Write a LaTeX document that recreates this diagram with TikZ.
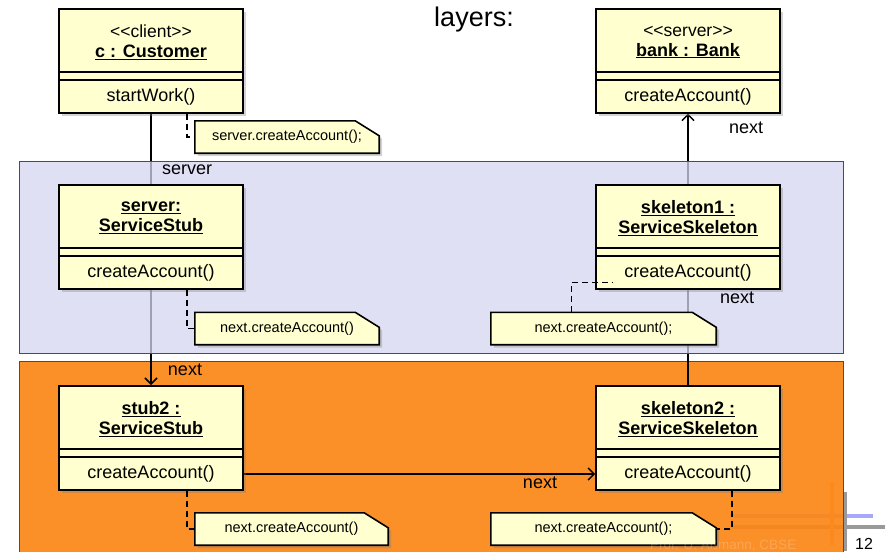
\documentclass[tikz,border=0pt]{standalone}
\usepackage{fontspec}
\setmainfont{Liberation Sans}
\usetikzlibrary{arrows.meta,shadows}
\pgfdeclarelayer{deco}
\pgfdeclarelayer{links}
\pgfdeclarelayer{tint}
\pgfdeclarelayer{paper}
\pgfsetlayers{deco,links,tint,paper,main}
\definecolor{objyellow}{RGB}{255,255,208}
\definecolor{layerblue}{RGB}{214,214,240}
\definecolor{layerorange}{RGB}{251,134,24}
\definecolor{decoblue}{RGB}{168,168,250}
\newcommand\stereofont{\mdseries\fontsize{17.5}{20}\selectfont}
\tikzset{
  objbox/.style={draw, line width=1.6pt, fill=objyellow, minimum width=184pt,
    minimum height=104pt, anchor=north,
    drop shadow={shadow xshift=3pt, shadow yshift=-3pt, opacity=.35}},
  headtext/.style={font=\bfseries\fontsize{18}{20}\selectfont, align=center},
  optext/.style={font=\fontsize{18}{20}\selectfont},
  notebox/.style={inner sep=0pt, minimum height=32pt, font=\fontsize{14.5}{16}\selectfont},
  notepaper/.style={draw, line width=1.6pt, fill=objyellow,
    drop shadow={shadow xshift=3pt, shadow yshift=-3pt, opacity=.35}},
  notelink/.style={line width=1.5pt, dash pattern=on 6pt off 4pt},
  objlink/.style={line width=1.5pt},
  linklabel/.style={font=\fontsize{18}{20}\selectfont, inner sep=0pt}
}
\begin{document}
\begin{tikzpicture}[x=1pt, y=-1pt]
\useasboundingbox (0,0) rectangle (890,551);
% Title
\node[font=\fontsize{27}{30}\selectfont, anchor=base, inner sep=0pt] (title) at (474,27) {layers:};
% Draw the objects: name compartment, empty attributes, operation
\foreach \n/\x/\y/\head/\op in {
  c/151/8/{\stereofont <{}<client>{}>}\\\underline{c : Customer}/startWork(),
  bank/688/8/{\stereofont <{}<server>{}>}\\\underline{bank : Bank}/createAccount(),
  serv/151/184/\underline{server:}\\\underline{ServiceStub}/createAccount(),
  skel1/688/184/\underline{skeleton1 :}\\\underline{ServiceSkeleton}/createAccount(),
  stub2/151/385/\underline{stub2 :}\\\underline{ServiceStub}/createAccount(),
  skel2/688/385/\underline{skeleton2 :}\\\underline{ServiceSkeleton}/createAccount()}
{
  \node[objbox] (\n) at (\x,\y) {};
  \draw[line width=1.6pt] ([yshift=-64pt]\n.north west) -- ([yshift=-64pt]\n.north east);
  \draw[line width=1.6pt] ([yshift=-72pt]\n.north west) -- ([yshift=-72pt]\n.north east);
  \node[headtext] (\n-head) at ([yshift=-34pt]\n.north) {\head};
  \node[optext] (\n-op) at ([yshift=-89pt]\n.north) {\op};
}
% Notes
\node[notebox, minimum width=184pt] (note1) at (287,137) {server.createAccount();};
\node[notebox, minimum width=184pt] (note2) at (287,328.5) {next.createAccount()};
\node[notebox, minimum width=225pt] (note3) at (603.5,328.5) {next.createAccount();};
\node[notebox, minimum width=193pt] (note4) at (291.5,529) {next.createAccount()};
\node[notebox, minimum width=225pt] (note5) at (603.5,529) {next.createAccount();};
% Paper of the notes, with the corner cut off
\begin{pgfonlayer}{paper}
\foreach \i in {1,...,5}
{
  \draw[notepaper] (note\i.north west) -- ([xshift=-24pt]note\i.north east)
    -- ([yshift=-15pt]note\i.north east) -- (note\i.south east) -- (note\i.south west) -- cycle;
}
\end{pgfonlayer}
% Dashed note links
\draw[notelink] ([xshift=36pt]c.south) |- (note1.west);
\draw[notelink] ([xshift=36pt]serv.south) |- (note2.west);
\draw[notelink] ([xshift=-32pt]note3.north) |- ([xshift=18pt,yshift=7pt]skel1.south west);
\draw[notelink] ([xshift=36pt]stub2.south) |- (note4.west);
\draw[notelink] ([xshift=44pt]skel2.south) |- (note5.east);
% Role names
\node[linklabel, anchor=west] (server-lbl) at (162,170) {server};
\node[linklabel] (next1) at (746,128) {next};
\node[linklabel] (next2) at (737,298) {next};
\node[linklabel] (next3) at (185,370) {next};
\node[linklabel] (next4) at (540,483) {next};
% Footer
\node[anchor=base west, inner sep=0pt, font=\fontsize{13.5}{15}\selectfont, text=white, text opacity=.2] (footer) at (650,549) {Prof. U. Aßmann, CBSE};
\node[anchor=base west, inner sep=0pt, font=\fontsize{16}{18}\selectfont] (page) at (855,549) {12};
% Layers and links behind the objects
\begin{pgfonlayer}{deco}
  \draw[line width=4pt, decoblue] (732,516) -- (873,516);
  \draw[line width=4pt, gray!80] (732,527) -- (885,527);
  \draw[line width=4pt, gray!80] (845,492) -- (845,551);
  \draw[line width=4pt, orange!60] (832,482) -- (832,545);
  \fill[layerorange, opacity=.93] (19,361) rectangle (843,560);
  \draw[gray!60!black, line width=.8pt] (19,361) rectangle (843,560);
\end{pgfonlayer}
\begin{pgfonlayer}{links}
  \draw[objlink, -{Straight Barb[length=6pt, width=12pt]}] (c.south) -- (stub2.north);
  \draw[objlink, -{Straight Barb[length=6pt, width=12pt]}] (skel1.north) -- (bank.south);
  \draw[objlink] (skel1.south) -- (skel2.north);
  \draw[objlink, -{Straight Barb[length=6pt, width=12pt]}] (stub2-op -| stub2.east) -- (stub2-op -| skel2.west);
\end{pgfonlayer}
\begin{pgfonlayer}{tint}
  \fill[layerblue, opacity=.75] (19,161) rectangle (843,353);
  \draw[gray!60!black, line width=.8pt] (19,161) rectangle (843,353);
\end{pgfonlayer}
\end{tikzpicture}
\end{document}
